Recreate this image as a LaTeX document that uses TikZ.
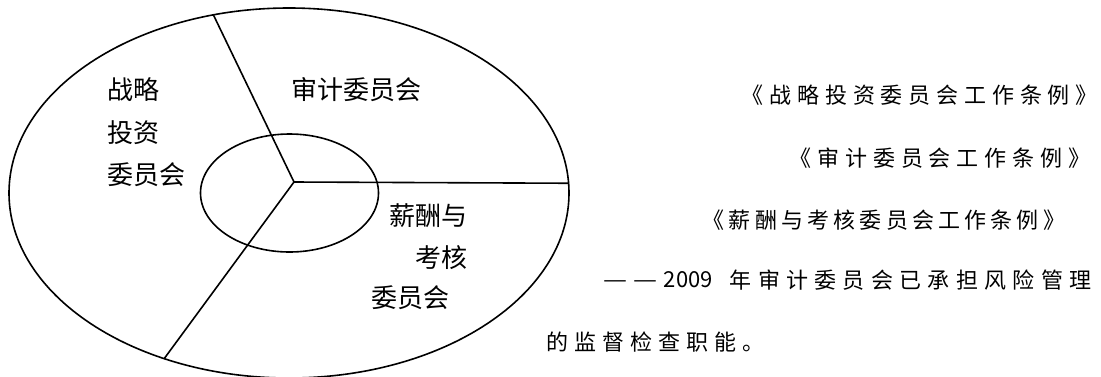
\documentclass[tikz,border=0pt]{standalone}
\usepackage{fontspec}
\usetikzlibrary{shapes.geometric}
\newfontfamily\cjk{Noto Sans CJK SC}
\newfontfamily\cjkA[LetterSpace=26.5]{Noto Sans CJK SC}
\newfontfamily\cjkB[LetterSpace=19]{Noto Sans CJK SC}
\newfontfamily\cjkC[LetterSpace=28.6]{Noto Sans CJK SC}
\newfontfamily\cjkD[LetterSpace=27]{Noto Sans CJK SC}
\newcommand{\widedash}{\makebox[30bp][l]{\resizebox{24bp}{\height}{—}}}
\begin{document}
\begin{tikzpicture}[x=1bp,y=-1bp,line width=1.6bp,
  oval/.style={ellipse,draw,inner sep=0pt,outer sep=0pt},
  big/.style={font=\cjk\fontsize{26bp}{26bp}\selectfont,inner sep=0pt},
  txtA/.style={font=\cjkA\fontsize{22bp}{22bp}\selectfont,inner sep=0pt,anchor=west},
  txtB/.style={font=\cjkB\fontsize{22bp}{22bp}\selectfont,inner sep=0pt,anchor=west},
  txtC/.style={font=\cjkC\fontsize{22bp}{22bp}\selectfont,inner sep=0pt,anchor=west},
  txtD/.style={font=\cjkD\fontsize{22bp}{22bp}\selectfont,inner sep=0pt,anchor=west},
  plain/.style={font=\cjk\fontsize{22bp}{22bp}\selectfont,inner sep=0pt,anchor=west}]
\useasboundingbox (0,0) rectangle (1101,376);
\fill[white] (0,0) rectangle (1101,376);
\node (outer) [oval,minimum width=560bp,minimum height=370bp] at (289,193) {};
\node (inner) [oval,minimum width=178bp,minimum height=118bp] at (289.5,193) {};
\coordinate (c) at (294,182);
\draw (c) -- (outer.113.4);
\draw (c) -- (outer.2.25);
\draw (c) -- (outer.233.4);
% labels inside
\node (l1) [big,anchor=west] at (107,90) {战略};
\node (l2) [big,anchor=west] at (107,133) {投资};
\node (l3) [big,anchor=west] at (107,175) {委员会};
\node (a1) [big,anchor=west] at (291,90) {审计委员会};
\node (x1) [big,anchor=east] at (468,216) {薪酬与};
\node (x2) [big,anchor=east] at (468,258) {考核};
\node (x3) [big,anchor=west] at (371,298) {委员会};
% text on the right
\node (r1) [txtA] at (741,95) {《战略投资委员会工作条例》};
\node (r2) [txtA] at (789,158) {《审计委员会工作条例》};
\node (r3) [txtB] at (702,220) {《薪酬与考核委员会工作条例》};
\node (r4a) [plain] at (603,280) {\widedash\widedash 2009};
\node (r4b) [txtC] at (729,280) {年审计委员会已承担风险管理};
\node (r5) [txtD] at (546,342) {的监督检查职能。};
\end{tikzpicture}
\end{document}
